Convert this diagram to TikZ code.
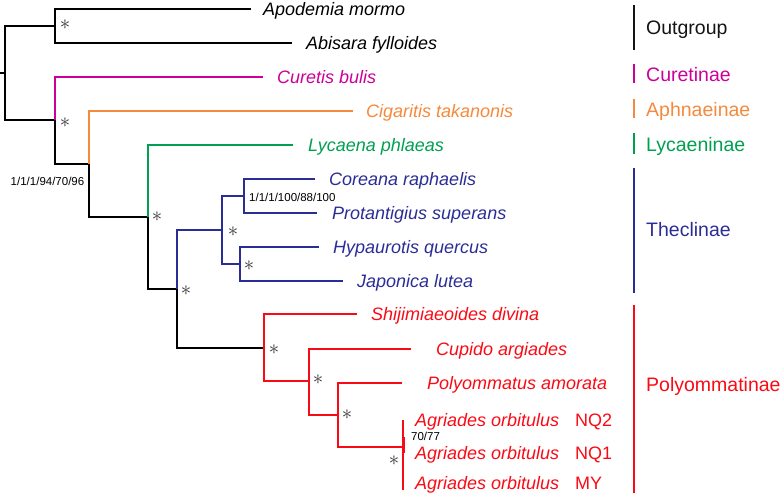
\documentclass[tikz,border=0pt]{standalone}
\usepackage{fontspec}
\setmainfont{Liberation Sans}
\definecolor{outg}{RGB}{20,20,20}
\definecolor{cure}{RGB}{204,0,153}
\definecolor{aphn}{RGB}{245,137,60}
\definecolor{lyca}{RGB}{0,160,80}
\definecolor{thec}{RGB}{43,45,150}
\definecolor{poly}{RGB}{250,10,20}
\tikzset{
  br/.style={line width=1.2pt},
  leaf/.style={anchor=base west, inner sep=0pt, yshift=-6.5pt, font=\fontsize{18}{18}\selectfont\itshape},
  tag/.style={anchor=base west, inner sep=0pt, yshift=-6.5pt, font=\fontsize{18}{18}\selectfont},
  grp/.style={anchor=base west, inner sep=0pt, yshift=-7pt, font=\fontsize{19.5}{20}\selectfont},
  supp/.style={inner sep=0pt, font=\fontsize{11.5}{12}\selectfont},
  ast/.style={inner sep=0pt, text=black!80, font=\fontsize{20}{20}\selectfont},
}
\begin{document}
\begin{tikzpicture}[x=1pt,y=-1pt]
\useasboundingbox (0,0) rectangle (782,495);

\coordinate (stub) at (0,73);
\coordinate (r) at (5,73);
\coordinate (nOut) at (55,26);
\coordinate (nA) at (55,120);
\coordinate (nB) at (89,164);
\coordinate (nC) at (148,217);
\coordinate (nD) at (177,289);
\coordinate (nE) at (222,230);
\coordinate (nF) at (244,196);
\coordinate (nG) at (240,264);
\coordinate (nH) at (264,348);
\coordinate (nI) at (309,381);
\coordinate (nJ) at (338,415);
\coordinate (nK) at (403,447);

\coordinate (tApo) at (251,9);
\coordinate (tAbi) at (292,43);
\coordinate (tCur) at (263,77);
\coordinate (tCig) at (353,111);
\coordinate (tLyc) at (293,145);
\coordinate (tCor) at (315,179);
\coordinate (tPro) at (317,213);
\coordinate (tHyp) at (319,247);
\coordinate (tJap) at (343,281);
\coordinate (tShi) at (357,314);
\coordinate (tCup) at (411,349);
\coordinate (tPol) at (402,383);
\coordinate (tAgT) at (403,420);
\coordinate (tAgB) at (403,490);
\coordinate (kA) at (403,437);
\coordinate (kB) at (403,453);

\node[leaf] (Apo) at (263,9) {Apodemia mormo};
\node[leaf] (Abi) at (306,43) {Abisara fylloides};
\node[leaf,cure] (Cur) at (277,77) {Curetis bulis};
\node[leaf,aphn] (Cig) at (366,111) {Cigaritis takanonis};
\node[leaf,lyca] (Lyc) at (308,145) {Lycaena phlaeas};
\node[leaf,thec] (Cor) at (329,179) {Coreana raphaelis};
\node[leaf,thec] (Pro) at (332,213) {Protantigius superans};
\node[leaf,thec] (Hyp) at (333,247) {Hypaurotis quercus};
\node[leaf,thec] (Jap) at (357,281) {Japonica lutea};
\node[leaf,poly] (Shi) at (371,314) {Shijimiaeoides divina};
\node[leaf,poly] (Cup) at (436,349) {Cupido argiades};
\node[leaf,poly] (Pol) at (427,383) {Polyommatus amorata};
\node[leaf,poly] (Ag1) at (415,420) {Agriades orbitulus};
\node[leaf,poly] (Ag2) at (415,453) {Agriades orbitulus};
\node[leaf,poly] (Ag3) at (415,483) {Agriades orbitulus};
\node[tag,poly] (NQ2) at (575,420) {NQ2};
\node[tag,poly] (NQ1) at (575,453) {NQ1};
\node[tag,poly] (MY) at (575,483) {MY};

\draw[br] (stub) -- (r);
\draw[br] (r) |- (nOut);
\draw[br] (r) |- (nA);
\draw[br] (nOut) |- (tApo);
\draw[br] (nOut) |- (tAbi);
\draw[br,cure] (nA) |- (tCur);
\draw[br] (nA) |- (nB);
\draw[br,aphn] (nB) |- (tCig);
\draw[br] (nB) |- (nC);
\draw[br,lyca] (nC) |- (tLyc);
\draw[br] (nC) |- (nD);
\draw[br,thec] (nD) |- (nE);
\draw[br] (nD) |- (nH);
\draw[br,thec] (nE) |- (nF);
\draw[br,thec] (nE) |- (nG);
\draw[br,thec] (nF) |- (tCor);
\draw[br,thec] (nF) |- (tPro);
\draw[br,thec] (nG) |- (tHyp);
\draw[br,thec] (nG) |- (tJap);
\draw[br,poly] (nH) |- (tShi);
\draw[br,poly] (nH) |- (nI);
\draw[br,poly] (nI) |- (tCup);
\draw[br,poly] (nI) |- (nJ);
\draw[br,poly] (nJ) |- (tPol);
\draw[br,poly] (nJ) |- (nK);
\draw[br,poly] (nK) -- (tAgT);
\draw[br,poly] (nK) -- (tAgB);
\draw[poly,line width=3pt] (kA) -- (kB);

\node[ast] (s1) at (65,25) {$\ast$};
\node[ast] (s2) at (65,123) {$\ast$};
\node[ast] (s3) at (157,217) {$\ast$};
\node[ast] (s4) at (186,291) {$\ast$};
\node[ast] (s5) at (233,232) {$\ast$};
\node[ast] (s6) at (249,266) {$\ast$};
\node[ast] (s7) at (274,350) {$\ast$};
\node[ast] (s8) at (318,380) {$\ast$};
\node[ast] (s9) at (347,415) {$\ast$};
\node[ast] (s10) at (394,461) {$\ast$};

\node[supp] (b1) at (47.5,181) {1/1/1/94/70/96};
\node[supp,anchor=west] (b2) at (249,197.5) {1/1/1/100/88/100};
\node[supp,anchor=west] (b3) at (411,436.5) {70/77};

\draw[br,outg] (634,5) -- (634,50);
\draw[br,cure] (634,64) -- (634,83);
\draw[br,aphn] (634,99) -- (634,118);
\draw[br,lyca] (634,133) -- (634,154);
\draw[br,thec] (634,168) -- (634,293);
\draw[br,poly] (634,305) -- (634,493);
\node[grp,outg] (gOut) at (646,28) {Outgroup};
\node[grp,cure] (gCur) at (646,74.5) {Curetinae};
\node[grp,aphn] (gAph) at (646,109.5) {Aphnaeinae};
\node[grp,lyca] (gLyc) at (646,144.5) {Lycaeninae};
\node[grp,thec] (gThe) at (646,229.5) {Theclinae};
\node[grp,poly] (gPol) at (646,384.5) {Polyommatinae};
\end{tikzpicture}
\end{document}
